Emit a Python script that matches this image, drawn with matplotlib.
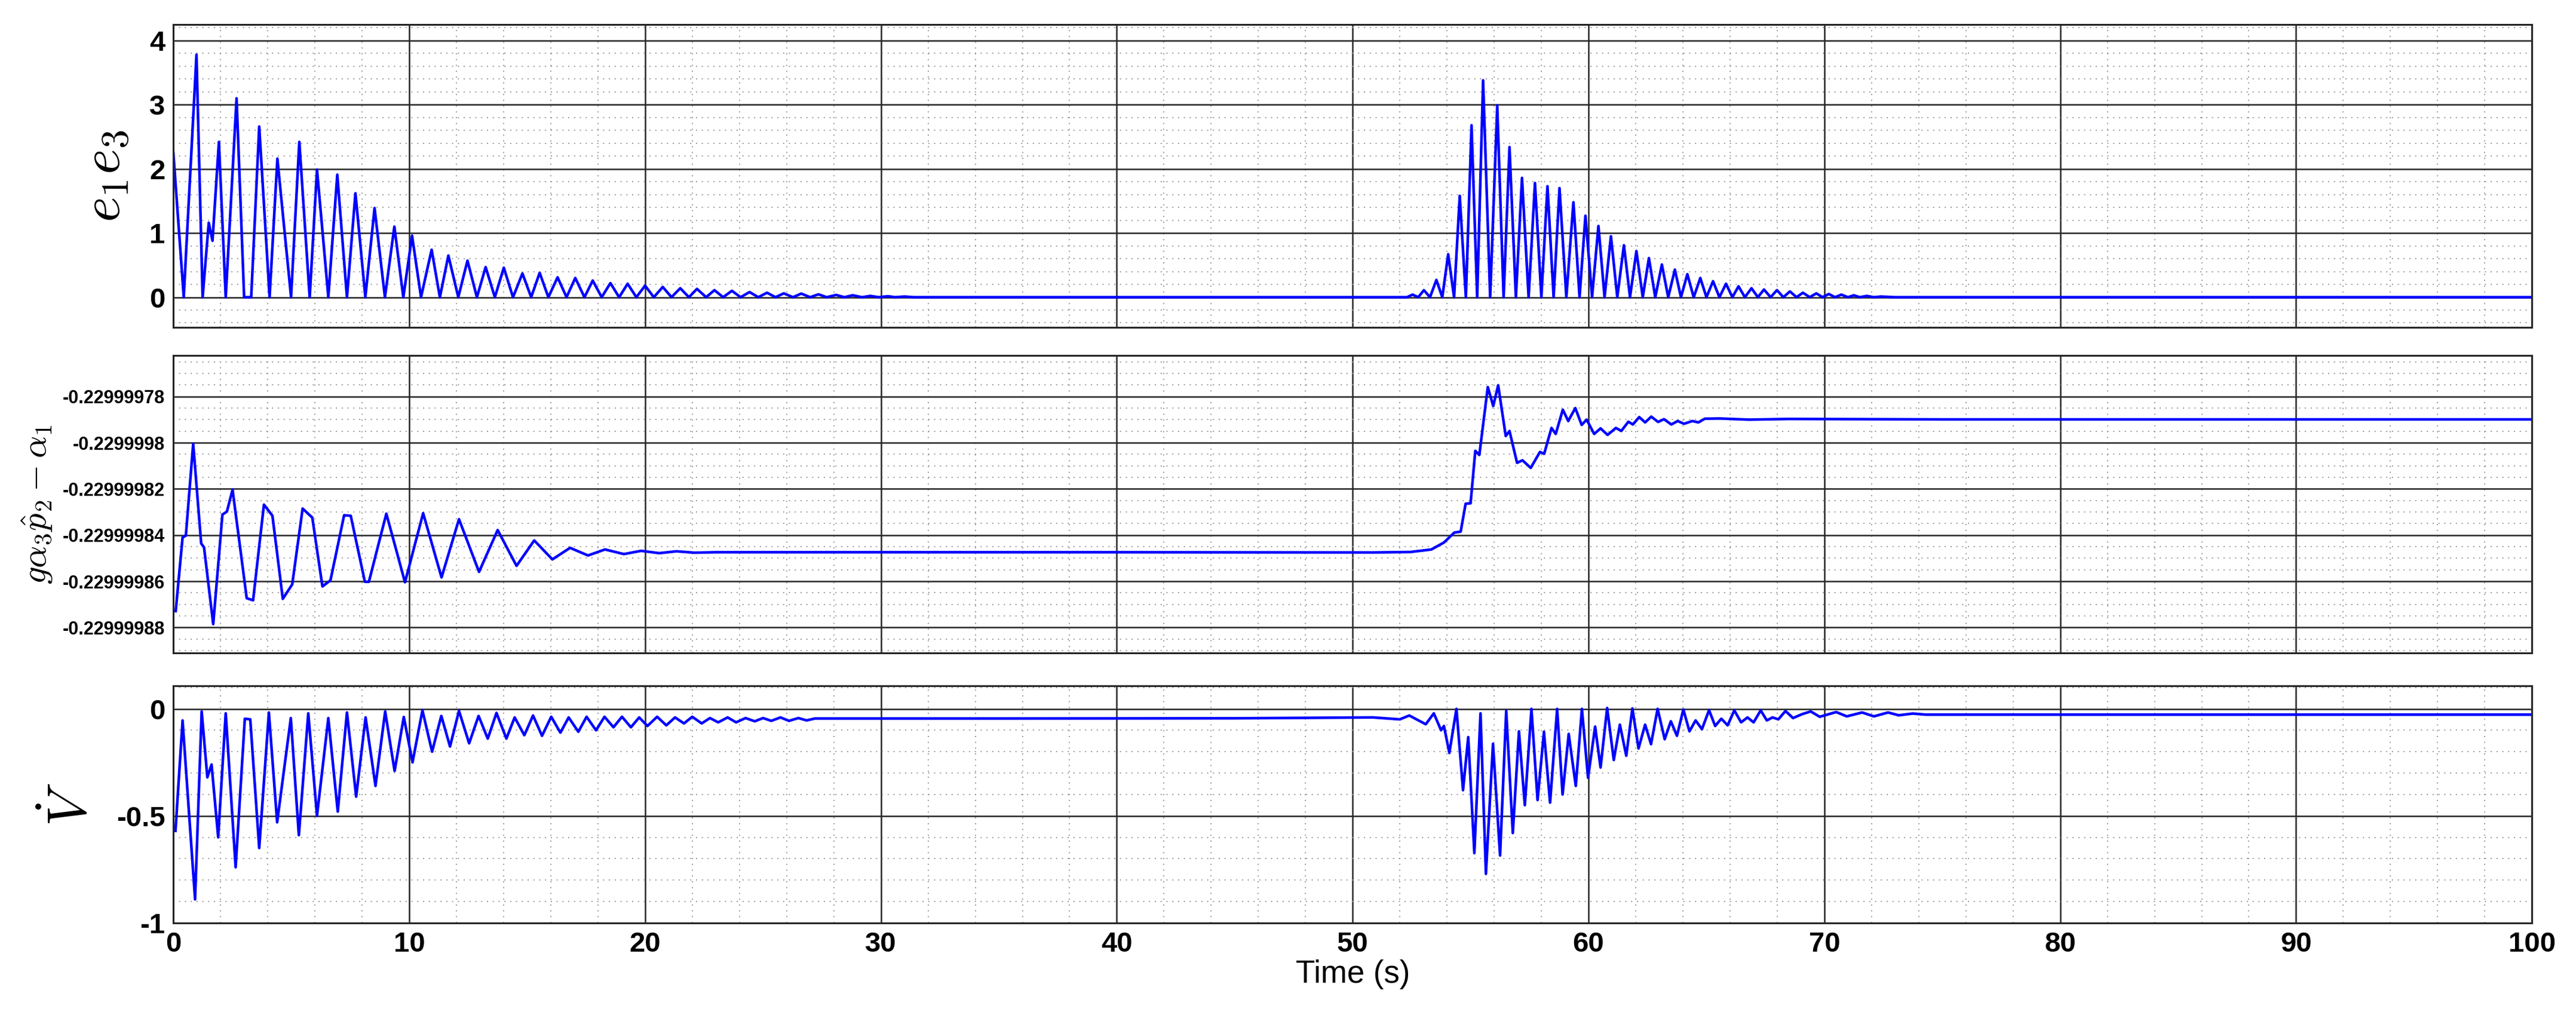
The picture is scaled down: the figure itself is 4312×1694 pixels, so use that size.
import numpy as np
import matplotlib
matplotlib.use('Agg')
import matplotlib.pyplot as plt
from matplotlib.ticker import FixedLocator, FixedFormatter, MultipleLocator

plt.rcParams['font.family'] = ['Liberation Sans', 'DejaVu Sans']
plt.rcParams['mathtext.fontset'] = 'cm'

# e1*e3 : extrema (time s, value)
E13 = [(0.0, 2.25), (0.44, 0.0), (0.98, 3.78), (1.24, 0.0), (1.5, 1.16), (1.66, 0.88),
       (1.93, 2.42), (2.22, 0.0), (2.68, 3.1), (3.0, 0.0), (3.3, 0.0), (3.64, 2.66),
       (4.08, 0.0), (4.41, 2.16), (4.99, 0.0), (5.34, 2.42), (5.78, 0.0), (6.09, 1.99),
       (6.57, 0.0), (6.95, 1.91), (7.36, 0.0), (7.72, 1.62), (8.14, 0.0), (8.53, 1.39),
       (8.97, 0.0), (9.37, 1.10), (9.75, 0.0), (10.12, 0.96), (10.5, 0.0), (10.95, 0.74),
       (11.3, 0.0), (11.66, 0.65), (12.08, 0.0), (12.47, 0.57), (12.87, 0.0), (13.24, 0.47),
       (13.63, 0.0), (14.01, 0.46), (14.4, 0.0), (14.8, 0.37), (15.17, 0.0), (15.53, 0.38),
       (15.9, 0.0), (16.29, 0.31), (16.67, 0.0), (17.04, 0.30), (17.43, 0.0), (17.78, 0.26),
       (18.16, 0.0), (18.53, 0.22), (18.9, 0.0), (19.26, 0.21), (19.63, 0.0), (20.0, 0.18),
       (20.37, 0.0), (20.75, 0.16), (21.12, 0.0), (21.49, 0.14), (21.86, 0.0), (22.2, 0.13),
       (22.59, 0.0), (22.94, 0.11), (23.31, 0.0), (23.68, 0.10), (24.05, 0.0), (24.43, 0.08),
       (24.8, 0.0), (25.17, 0.07), (25.53, 0.0), (25.88, 0.06), (26.27, 0.0), (26.62, 0.056),
       (27.0, 0.0), (27.35, 0.045), (27.7, 0.0), (28.1, 0.035), (28.45, 0.0), (28.8, 0.03),
       (29.2, 0.0), (29.55, 0.02), (29.9, 0.0), (30.3, 0.015), (30.6, 0.0), (31.0, 0.01),
       (31.4, 0.0), (52.0, 0.0),
       (52.3, 0.0), (52.54, 0.04), (52.78, 0.0), (53.02, 0.11), (53.28, 0.0), (53.55, 0.27),
       (53.8, 0.0), (54.05, 0.67), (54.3, 0.0), (54.54, 1.58), (54.8, 0.0), (55.04, 2.68),
       (55.28, 0.0), (55.53, 3.38), (55.83, 0.0), (56.13, 2.99), (56.4, 0.0), (56.65, 2.34),
       (56.92, 0.0), (57.18, 1.86), (57.46, 0.0), (57.73, 1.78), (58.0, 0.0), (58.26, 1.73),
       (58.52, 0.0), (58.77, 1.70), (59.06, 0.0), (59.36, 1.48), (59.62, 0.0), (59.87, 1.27),
       (60.15, 0.0), (60.42, 1.11), (60.68, 0.0), (60.95, 0.95), (61.22, 0.0), (61.5, 0.81),
       (61.76, 0.0), (62.03, 0.72), (62.3, 0.0), (62.56, 0.61), (62.83, 0.0), (63.11, 0.51),
       (63.38, 0.0), (63.66, 0.43), (63.92, 0.0), (64.19, 0.36), (64.46, 0.0), (64.74, 0.30),
       (65.0, 0.0), (65.28, 0.25), (65.55, 0.0), (65.83, 0.21), (66.1, 0.0), (66.36, 0.17),
       (66.63, 0.0), (66.91, 0.14), (67.18, 0.0), (67.44, 0.12), (67.72, 0.0), (67.99, 0.11),
       (68.26, 0.0), (68.54, 0.09), (68.82, 0.0), (69.09, 0.07), (69.38, 0.0), (69.66, 0.06),
       (69.92, 0.0), (70.19, 0.05), (70.45, 0.0), (70.72, 0.04), (71.0, 0.0), (71.25, 0.03),
       (71.5, 0.0), (71.8, 0.02), (72.1, 0.0), (72.4, 0.01), (73.0, 0.0), (100.0, 0.0)]

# g*alpha3*p2hat - alpha1
G = [(0.1, -0.2299998729), (0.39, -0.2299998410), (0.53, -0.2299998402), (0.84, -0.2299998005),
     (1.18, -0.2299998436), (1.3, -0.2299998453), (1.69, -0.2299998785), (2.08, -0.2299998311),
     (2.27, -0.2299998298), (2.51, -0.2299998203), (3.11, -0.2299998673), (3.38, -0.2299998682),
     (3.84, -0.2299998268), (4.2, -0.2299998316), (4.64, -0.2299998676), (5.04, -0.2299998613),
     (5.48, -0.2299998285), (5.89, -0.2299998324), (6.32, -0.2299998622), (6.66, -0.2299998596),
     (7.24, -0.2299998314), (7.52, -0.2299998316), (8.12, -0.2299998602), (8.29, -0.2299998602),
     (9.03, -0.2299998307), (9.82, -0.2299998604), (10.59, -0.2299998305), (11.37, -0.2299998583),
     (12.11, -0.2299998331), (12.96, -0.2299998559), (13.75, -0.2299998378), (14.55, -0.2299998533),
     (15.3, -0.2299998423), (16.07, -0.2299998505), (16.82, -0.2299998455), (17.58, -0.2299998488),
     (18.3, -0.2299998462), (19.1, -0.2299998482), (19.83, -0.2299998468), (20.6, -0.2299998478),
     (21.33, -0.2299998470), (22.1, -0.2299998476), (23.0, -0.2299998474), (40.0, -0.2299998474),
     (50.86, -0.2299998475), (52.45, -0.2299998473), (53.34, -0.2299998462), (53.87, -0.2299998432),
     (54.31, -0.2299998389), (54.58, -0.2299998385), (54.79, -0.2299998264), (55.0, -0.2299998262),
     (55.2, -0.2299998035), (55.37, -0.2299998053), (55.73, -0.2299997759), (55.96, -0.2299997841),
     (56.17, -0.2299997751), (56.49, -0.2299997971), (56.65, -0.2299997949), (56.97, -0.2299998087),
     (57.2, -0.2299998076), (57.55, -0.2299998109), (57.94, -0.2299998040), (58.12, -0.2299998048),
     (58.43, -0.2299997936), (58.61, -0.2299997962), (58.91, -0.2299997857), (59.14, -0.2299997906),
     (59.44, -0.2299997850), (59.71, -0.2299997923), (59.92, -0.2299997900), (60.24, -0.2299997962),
     (60.51, -0.2299997938), (60.81, -0.2299997966), (61.16, -0.2299997936), (61.39, -0.2299997949),
     (61.69, -0.2299997909), (61.88, -0.2299997921), (62.15, -0.2299997889), (62.4, -0.2299997912),
     (62.66, -0.2299997887), (62.95, -0.2299997910), (63.2, -0.2299997898), (63.51, -0.2299997921),
     (63.78, -0.2299997906), (64.05, -0.2299997918), (64.4, -0.2299997906), (64.66, -0.2299997912),
     (64.93, -0.2299997896), (65.55, -0.2299997895), (66.8, -0.2299997900), (68.5, -0.2299997897),
     (75.0, -0.2299997899), (100.0, -0.2299997899)]

# V dot
VD = [(0.09, -0.57), (0.39, -0.054), (0.92, -0.89), (1.2, -0.012), (1.44, -0.32), (1.62, -0.26),
      (1.9, -0.60), (2.22, -0.021), (2.64, -0.74), (3.03, -0.046), (3.26, -0.049), (3.64, -0.65),
      (4.05, -0.017), (4.4, -0.53), (4.98, -0.043), (5.32, -0.59), (5.72, -0.021), (6.09, -0.50),
      (6.57, -0.043), (6.97, -0.48), (7.36, -0.017), (7.75, -0.41), (8.15, -0.040), (8.57, -0.36),
      (8.98, -0.012), (9.38, -0.29), (9.77, -0.038), (10.14, -0.25), (10.56, -0.007), (10.97, -0.20),
      (11.36, -0.033), (11.73, -0.176), (12.11, -0.009), (12.54, -0.161), (12.94, -0.033),
      (13.33, -0.139), (13.7, -0.019), (14.12, -0.139), (14.47, -0.040), (14.88, -0.123),
      (15.25, -0.031), (15.63, -0.126), (16.02, -0.037), (16.41, -0.111), (16.76, -0.040),
      (17.17, -0.107), (17.52, -0.037), (17.92, -0.10), (18.28, -0.037), (18.66, -0.086),
      (19.02, -0.037), (19.4, -0.086), (19.75, -0.040), (20.1, -0.080), (20.51, -0.037),
      (20.9, -0.077), (21.27, -0.040), (21.65, -0.068), (22.0, -0.037), (22.4, -0.068),
      (22.75, -0.043), (23.1, -0.063), (23.5, -0.040), (23.86, -0.063), (24.26, -0.043),
      (24.65, -0.058), (25.0, -0.043), (25.35, -0.056), (25.74, -0.040), (26.1, -0.056),
      (26.5, -0.043), (26.85, -0.054), (27.2, -0.045), (35.0, -0.045), (45.0, -0.044),
      (50.86, -0.040), (52.0, -0.049), (52.4, -0.031), (53.1, -0.072), (53.44, -0.021),
      (53.75, -0.10), (53.87, -0.08), (54.1, -0.206), (54.4, 0.0), (54.68, -0.38), (54.9, -0.132),
      (55.16, -0.674), (55.42, -0.021), (55.65, -0.771), (55.95, -0.163), (56.25, -0.685),
      (56.51, -0.009), (56.79, -0.58), (57.05, -0.105), (57.3, -0.45), (57.58, 0.0), (57.84, -0.426),
      (58.11, -0.107), (58.37, -0.438), (58.67, 0.0), (58.9, -0.40), (59.16, -0.117), (59.46, -0.36),
      (59.72, 0.0), (59.98, -0.322), (60.28, -0.083), (60.51, -0.274), (60.79, 0.004), (61.07, -0.239),
      (61.33, -0.074), (61.6, -0.219), (61.86, 0.002), (62.12, -0.185), (62.4, -0.074), (62.65, -0.165),
      (62.93, 0.0), (63.23, -0.142), (63.49, -0.058), (63.75, -0.126), (64.02, -0.003), (64.28, -0.105),
      (64.54, -0.054), (64.81, -0.095), (65.11, -0.006), (65.37, -0.080), (65.63, -0.046),
      (65.9, -0.077), (66.18, -0.007), (66.47, -0.063), (66.74, -0.040), (67.0, -0.063),
      (67.3, -0.007), (67.56, -0.054), (67.8, -0.040), (68.05, -0.049), (68.35, -0.010),
      (68.67, -0.043), (69.05, -0.025), (69.42, -0.012), (69.8, -0.037), (70.5, -0.015),
      (70.95, -0.035), (71.6, -0.017), (72.1, -0.035), (72.7, -0.017), (73.15, -0.030),
      (73.75, -0.022), (74.3, -0.027), (80.0, -0.027), (100.0, -0.027)]

G_TICKS = [-0.22999988, -0.22999986, -0.22999984, -0.22999982, -0.2299998, -0.22999978]
G_LABELS = ['-0.22999988', '-0.22999986', '-0.22999984', '-0.22999982', '-0.2299998', '-0.22999978']

BLUE = '#0000ff'
fig = plt.figure(figsize=(43.12, 16.94), dpi=100, facecolor='white')
ax1 = fig.add_axes([0.0673, 0.6765, 0.9156, 0.2993])
ax2 = fig.add_axes([0.0673, 0.3548, 0.9156, 0.2940])
ax3 = fig.add_axes([0.0673, 0.0880, 0.9156, 0.2344])


def style(ax):
    ax.set_xlim(0, 100)
    ax.xaxis.set_major_locator(MultipleLocator(10))
    ax.xaxis.set_minor_locator(MultipleLocator(2))
    ax.grid(True, which='major', color='#262626', lw=1.8, ls='-')
    ax.grid(True, which='minor', color='#9a9a9a', lw=1.4, ls=(0, (1, 4)))
    ax.set_axisbelow(True)
    ax.tick_params(which='both', length=0, pad=10)
    for s in ax.spines.values():
        s.set_color('#262626')
        s.set_linewidth(2.2)
    for lab in ax.get_yticklabels():
        lab.set_fontweight('bold')


def xy(pairs):
    return [p[0] for p in pairs], [p[1] for p in pairs]


ax1.plot(*xy(E13), color=BLUE, lw=3.2)
ax1.set_ylim(-0.47, 4.25)
ax1.yaxis.set_major_locator(MultipleLocator(1))
ax1.yaxis.set_minor_locator(MultipleLocator(0.2))
ax1.tick_params(labelsize=34)
ax1.set_xticklabels([])
ax1.set_ylabel(r'$e_1e_3$', fontsize=66, labelpad=22)
style(ax1)

ax2.plot(*xy(G), color=BLUE, lw=3.2)
ax2.set_ylim(-0.229999891, -0.2299997622)
ax2.yaxis.set_major_locator(FixedLocator(G_TICKS))
ax2.yaxis.set_major_formatter(FixedFormatter(G_LABELS))
ax2.yaxis.set_minor_locator(FixedLocator(np.linspace(-0.229999895, -0.22999976, 28)))
ax2.tick_params(labelsize=22)
ax2.set_xticklabels([])
ax2.set_ylabel(r'$g\alpha_3\hat{p}_2-\alpha_1$', fontsize=42, labelpad=10)
style(ax2)

ax3.plot(*xy(VD), color=BLUE, lw=3.2)
ax3.set_ylim(-1.0, 0.108)
ax3.yaxis.set_major_locator(FixedLocator([-1, -0.5, 0]))
ax3.yaxis.set_major_formatter(FixedFormatter(['-1', '-0.5', '0']))
ax3.yaxis.set_minor_locator(MultipleLocator(0.1))
ax3.tick_params(labelsize=34)
ax3.set_ylabel(r'$\dot{V}$', fontsize=66, labelpad=22)
ax3.set_xlabel('Time (s)', fontsize=38, labelpad=2)
style(ax3)
for lab in ax3.get_xticklabels():
    lab.set_fontweight('bold')

fig.savefig('out.png', dpi=100, facecolor='white')
